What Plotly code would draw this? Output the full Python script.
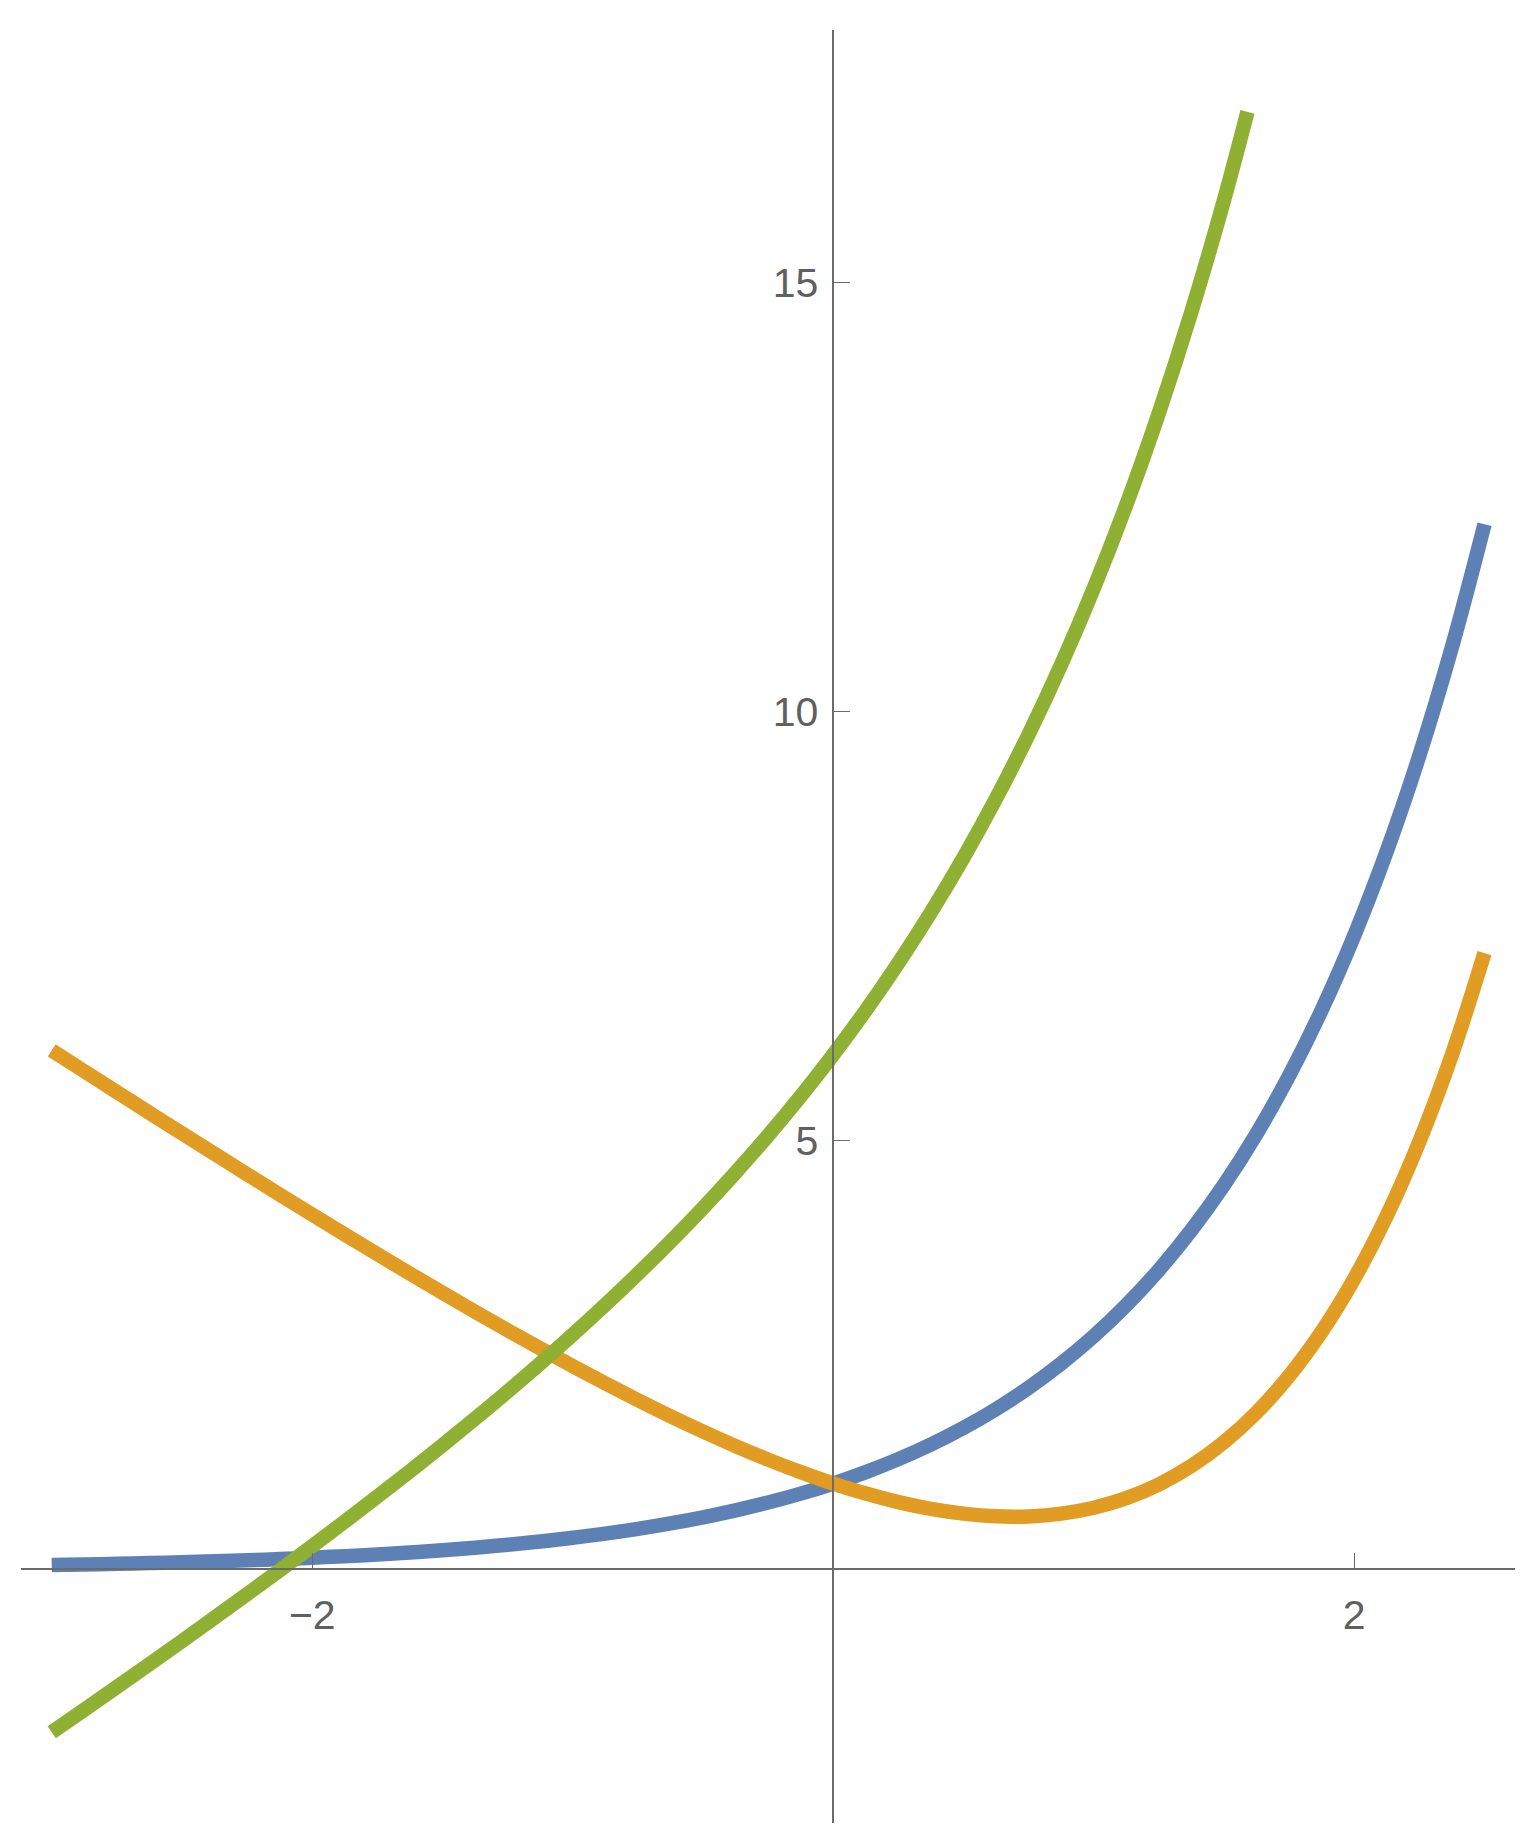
import plotly.graph_objects as go

# x samples
x_vals = [-3, -2.875, -2.75, -2.625, -2.5, -2.375, -2.25, -2.125, -2, -1.875, -1.75, -1.625,
          -1.5, -1.375, -1.25, -1.125, -1, -0.875, -0.75, -0.625, -0.5, -0.375, -0.25, -0.125,
          0, 0.125, 0.25, 0.375, 0.5, 0.625, 0.75, 0.875, 1, 1.125, 1.25, 1.375, 1.5, 1.625,
          1.75, 1.875, 2, 2.125, 2.25, 2.375, 2.5]
blue_vals = [0.0498, 0.0564, 0.0639, 0.0724, 0.0821, 0.0930, 0.1054, 0.1194, 0.1353, 0.1534, 0.1738, 0.1969,
             0.2231, 0.2528, 0.2865, 0.3247, 0.3679, 0.4169, 0.4724, 0.5353, 0.6065, 0.6873, 0.7788, 0.8825,
             1.0, 1.1332, 1.2840, 1.4550, 1.6487, 1.8683, 2.1170, 2.3989, 2.7183, 3.0802, 3.4903, 3.9551, 4.4817, 5.0784,
             5.7546, 6.5208, 7.3891, 8.3729, 9.4877, 10.7510, 12.1825]
orange_vals = [6.050, 5.806, 5.564, 5.322, 5.082, 4.843, 4.605, 4.369, 4.135, 3.903, 3.674, 3.447,
               3.223, 3.003, 2.787, 2.575, 2.368, 2.167, 1.972, 1.785, 1.607, 1.437, 1.279, 1.133,
               1.000, 0.883, 0.784, 0.705, 0.649, 0.618, 0.617, 0.649, 0.718, 0.830, 0.990, 1.205, 1.482, 1.828,
               2.255, 2.771, 3.389, 4.123, 4.988, 6.001, 7.182]
green_x = [-3, -2.875, -2.75, -2.625, -2.5, -2.375, -2.25, -2.125, -2, -1.875, -1.75, -1.625,
           -1.5, -1.375, -1.25, -1.125, -1, -0.875, -0.75, -0.625, -0.5, -0.375, -0.25, -0.125,
           0, 0.125, 0.25, 0.375, 0.5, 0.625, 0.75, 0.875, 1, 1.125, 1.25, 1.375, 1.5, 1.59]
green_vals = [-1.900, -1.637, -1.372, -1.105, -0.836, -0.564, -0.289, -0.011, 0.271, 0.557, 0.848, 1.144,
              1.446, 1.756, 2.073, 2.399, 2.736, 3.084, 3.445, 3.821, 4.213, 4.625, 5.058, 5.515,
              6.000, 6.516, 7.068, 7.660, 8.297, 8.987, 9.734, 10.548, 11.437, 12.410, 13.481, 14.660, 15.963, 16.99]

x_ticks = [-2, 2]
x_ticktext = ["\u22122", "2"]
y_ticks = [5, 10, 15]

x_range = [-3.118, 2.617]
y_range = [-2.957, 17.944]

axis_color = "#6b6b6b"
W = 14.5

fig = go.Figure()
for xs, ys, col in [(x_vals, blue_vals, "#5E81B5"), (x_vals, orange_vals, "#E19C24"), (green_x, green_vals, "#8FB032")]:
    fig.add_trace(go.Scatter(x=xs, y=ys, mode="lines",
                             line=dict(color=col, width=W, shape="spline", smoothing=1.0, simplify=False)))

xpos = (0 - y_range[0]) / (y_range[1] - y_range[0])
ypos = (0 - x_range[0]) / (x_range[1] - x_range[0])

fig.update_layout(
    width=1538, height=1838,
    margin=dict(l=13, r=31, t=22, b=23),
    paper_bgcolor="white", plot_bgcolor="white",
    showlegend=False,
    font=dict(family="Liberation Sans", size=41, color="#606060"),
    xaxis=dict(range=x_range, showgrid=False, zeroline=False, showline=True, linecolor=axis_color, linewidth=1.5,
               anchor="free", position=xpos, side="bottom", ticks="inside", ticklen=16, tickwidth=1.2,
               tickcolor=axis_color, tickvals=x_ticks, ticktext=x_ticktext, ticklabelstandoff=10,
               automargin=False),
    yaxis=dict(range=y_range, showgrid=False, zeroline=False, showline=True, linecolor=axis_color, linewidth=1.5,
               anchor="free", position=ypos, side="left", ticks="inside", ticklen=16, tickwidth=1.2,
               tickcolor=axis_color, tickvals=y_ticks, ticklabelstandoff=6, automargin=False),
)

fig.write_html("out.html")
